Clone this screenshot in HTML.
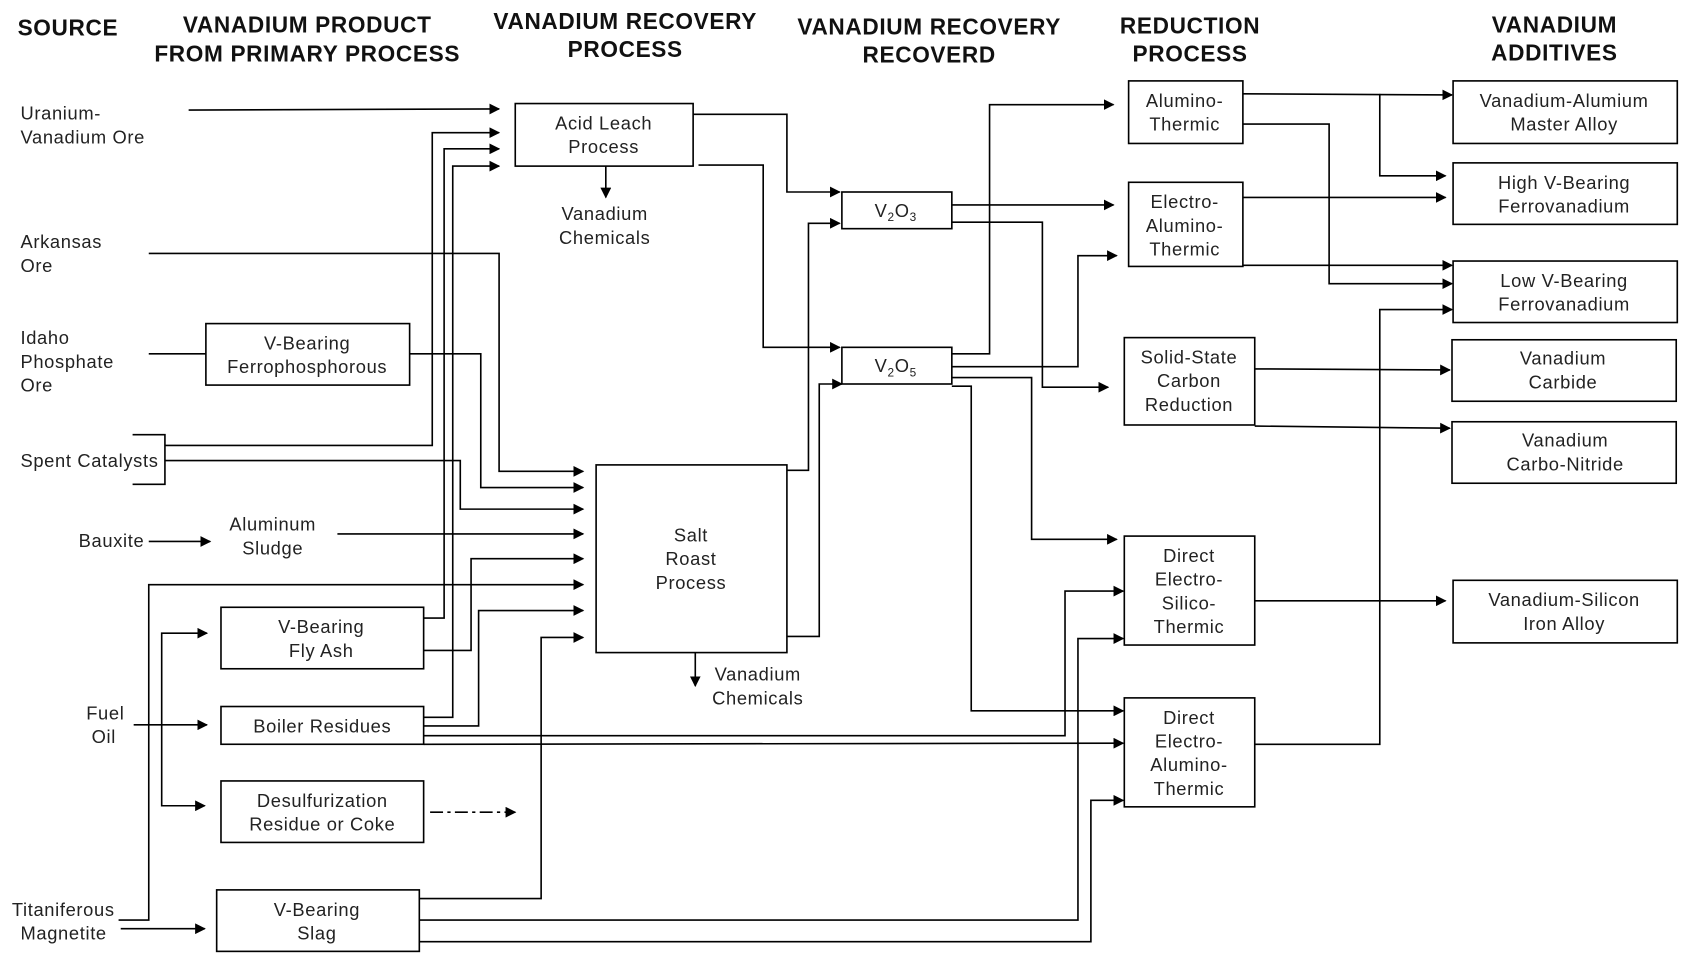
<!DOCTYPE html>
<html><head><meta charset="utf-8"><style>
html,body{margin:0;padding:0;background:#fff;}
svg{display:block;}
text{font-family:"Liberation Sans",sans-serif;font-size:17px;letter-spacing:0.6px;fill:#222;}
.h{font-weight:bold;font-size:21px;letter-spacing:0.6px;fill:#111;}
</style></head><body>
<svg width="1687" height="960" viewBox="0 0 1565 890" preserveAspectRatio="none" xmlns="http://www.w3.org/2000/svg">
<defs><marker id="a" markerWidth="10" markerHeight="10" refX="9" refY="5" orient="auto" markerUnits="userSpaceOnUse"><path d="M0,0 L10,5 L0,10 z" fill="#000"/></marker></defs>
<g text-anchor="middle" class="h">
<text class="h" x="63" y="33">SOURCE</text>
<text class="h" x="285" y="30">VANADIUM PRODUCT</text><text class="h" x="285" y="57">FROM PRIMARY PROCESS</text>
<text class="h" x="580" y="27">VANADIUM RECOVERY</text><text class="h" x="580" y="53">PROCESS</text>
<text class="h" x="862" y="32">VANADIUM RECOVERY</text><text class="h" x="862" y="58">RECOVERD</text>
<text class="h" x="1104" y="31">REDUCTION</text><text class="h" x="1104" y="57">PROCESS</text>
<text class="h" x="1442" y="30">VANADIUM</text><text class="h" x="1442" y="56">ADDITIVES</text>
</g>
<g fill="none" stroke="#000" stroke-width="1.5">
<rect x="478" y="96" width="165" height="58"/>
<rect x="191" y="300" width="189" height="57"/>
<rect x="553" y="431" width="177" height="174"/>
<rect x="781" y="178" width="102" height="34"/>
<rect x="781" y="322" width="102" height="34"/>
<rect x="1047" y="75" width="106" height="58"/>
<rect x="1047" y="169" width="106" height="78"/>
<rect x="1043" y="313" width="121" height="81"/>
<rect x="1043" y="497" width="121" height="101"/>
<rect x="1043" y="647" width="121" height="101"/>
<rect x="1348" y="75" width="208" height="58"/>
<rect x="1348" y="151" width="208" height="57"/>
<rect x="1348" y="242" width="208" height="57"/>
<rect x="1347" y="315" width="208" height="57"/>
<rect x="1347" y="391" width="208" height="57"/>
<rect x="1348" y="538" width="208" height="58"/>
<rect x="205" y="563" width="188" height="57"/>
<rect x="205" y="655" width="188" height="35"/>
<rect x="205" y="724" width="188" height="57"/>
<rect x="201" y="825" width="188" height="57"/>
<polyline points="123,403 153,403 153,449 123,449"/>
</g>
<g fill="none" stroke="#000" stroke-width="1.5" marker-end="url(#a)">
<polyline points="175,102 463,101"/>
<polyline points="153,413 401,413 401,123 463,123"/>
<polyline points="393,573 412,573 412,138 463,138"/>
<polyline points="393,665 420,665 420,154 463,154"/>
<polyline points="138,235 463,235 463,437 541,437"/>
<polyline points="380,328 446,328 446,452 541,452"/>
<polyline points="153,427 427,427 427,472 541,472"/>
<polyline points="313,495 541,495"/>
<polyline points="393,603 437,603 437,518 541,518"/>
<polyline points="110,853 138,853 138,542 541,542"/>
<polyline points="393,673 444,673 444,566 541,566"/>
<polyline points="389,833 502,833 502,591 541,591"/>
<polyline points="643,106 730,106 730,178 779,178"/>
<polyline points="648,153 708,153 708,322 779,322"/>
<polyline points="562,154 562,183"/>
<polyline points="730,436 750,436 750,207 779,207"/>
<polyline points="730,590 760,590 760,356 781,356"/>
<polyline points="645,605 645,636"/>
<polyline points="883,190 1033,190"/>
<polyline points="883,206 967,206 967,359 1028,359"/>
<polyline points="883,328 918,328 918,97 1033,97"/>
<polyline points="883,340 1000,340 1000,237 1036,237"/>
<polyline points="883,350 957,350 957,500 1036,500"/>
<polyline points="883,358 901,358 901,659 1042,659"/>
<polyline points="393,682 988,682 988,548 1042,548"/>
<polyline points="393,690 1042,689"/>
<polyline points="389,853 1000,853 1000,592 1042,592"/>
<polyline points="389,873 1012,873 1012,742 1042,742"/>
<polyline points="1153,87 1347,88"/>
<polyline points="1280,87 1280,163 1341,163"/>
<polyline points="1153,115 1233,115 1233,263 1347,263"/>
<polyline points="1153,183 1341,183"/>
<polyline points="1153,246 1347,246"/>
<polyline points="1164,342 1345,343"/>
<polyline points="1164,395 1345,397"/>
<polyline points="1164,557 1341,557"/>
<polyline points="1164,690 1280,690 1280,287 1347,287"/>
<polyline points="124,672 192,672"/>
<polyline points="150,672 150,587 192,587"/>
<polyline points="150,672 150,747 190,747"/>
<polyline points="112,861 190,861"/>
<polyline points="138,502 195,502"/>
<polyline points="138,328 191,328" marker-end="none"/>
<polyline points="399,753 478,753" stroke-dasharray="12,4,3,4"/>
</g>
<g>
<text x="19" y="111">Uranium-</text><text x="19" y="133">Vanadium Ore</text>
<text x="19" y="230">Arkansas</text><text x="19" y="252">Ore</text>
<text x="19" y="319">Idaho</text><text x="19" y="341">Phosphate</text><text x="19" y="363">Ore</text>
<text x="19" y="433">Spent Catalysts</text>
<text x="73" y="507">Bauxite</text>
<text x="80" y="667">Fuel</text><text x="85" y="689">Oil</text>
<text x="11" y="849">Titaniferous</text><text x="19" y="871">Magnetite</text>
</g>
<g text-anchor="middle">
<text x="560" y="120">Acid Leach</text><text x="560" y="142">Process</text>
<text x="561" y="204">Vanadium</text><text x="561" y="226">Chemicals</text>
<text x="285" y="324">V-Bearing</text><text x="285" y="346">Ferrophosphorous</text>
<text x="253" y="492">Aluminum</text><text x="253" y="514">Sludge</text>
<text x="641" y="502">Salt</text><text x="641" y="524">Roast</text><text x="641" y="546">Process</text>
<text x="703" y="631">Vanadium</text><text x="703" y="653">Chemicals</text>
<text x="298" y="587">V-Bearing</text><text x="298" y="609">Fly Ash</text>
<text x="299" y="679">Boiler Residues</text>
<text x="299" y="748">Desulfurization</text><text x="299" y="770">Residue or Coke</text>
<text x="294" y="849">V-Bearing</text><text x="294" y="871">Slag</text>
<text x="831" y="201">V<tspan font-size="11" dy="4">2</tspan><tspan dy="-4">O</tspan><tspan font-size="11" dy="4">3</tspan></text>
<text x="831" y="345">V<tspan font-size="11" dy="4">2</tspan><tspan dy="-4">O</tspan><tspan font-size="11" dy="4">5</tspan></text>
<text x="1099" y="99">Alumino-</text><text x="1099" y="121">Thermic</text>
<text x="1099" y="193">Electro-</text><text x="1099" y="215">Alumino-</text><text x="1099" y="237">Thermic</text>
<text x="1103" y="337">Solid-State</text><text x="1103" y="359">Carbon</text><text x="1103" y="381">Reduction</text>
<text x="1103" y="521">Direct</text><text x="1103" y="543">Electro-</text><text x="1103" y="565">Silico-</text><text x="1103" y="587">Thermic</text>
<text x="1103" y="671">Direct</text><text x="1103" y="693">Electro-</text><text x="1103" y="715">Alumino-</text><text x="1103" y="737">Thermic</text>
<text x="1451" y="99">Vanadium-Alumium</text><text x="1451" y="121">Master Alloy</text>
<text x="1451" y="175">High V-Bearing</text><text x="1451" y="197">Ferrovanadium</text>
<text x="1451" y="266">Low V-Bearing</text><text x="1451" y="288">Ferrovanadium</text>
<text x="1450" y="338">Vanadium</text><text x="1450" y="360">Carbide</text>
<text x="1452" y="414">Vanadium</text><text x="1452" y="436">Carbo-Nitride</text>
<text x="1451" y="562">Vanadium-Silicon</text><text x="1451" y="584">Iron Alloy</text>
</g>
</svg>
</body></html>
